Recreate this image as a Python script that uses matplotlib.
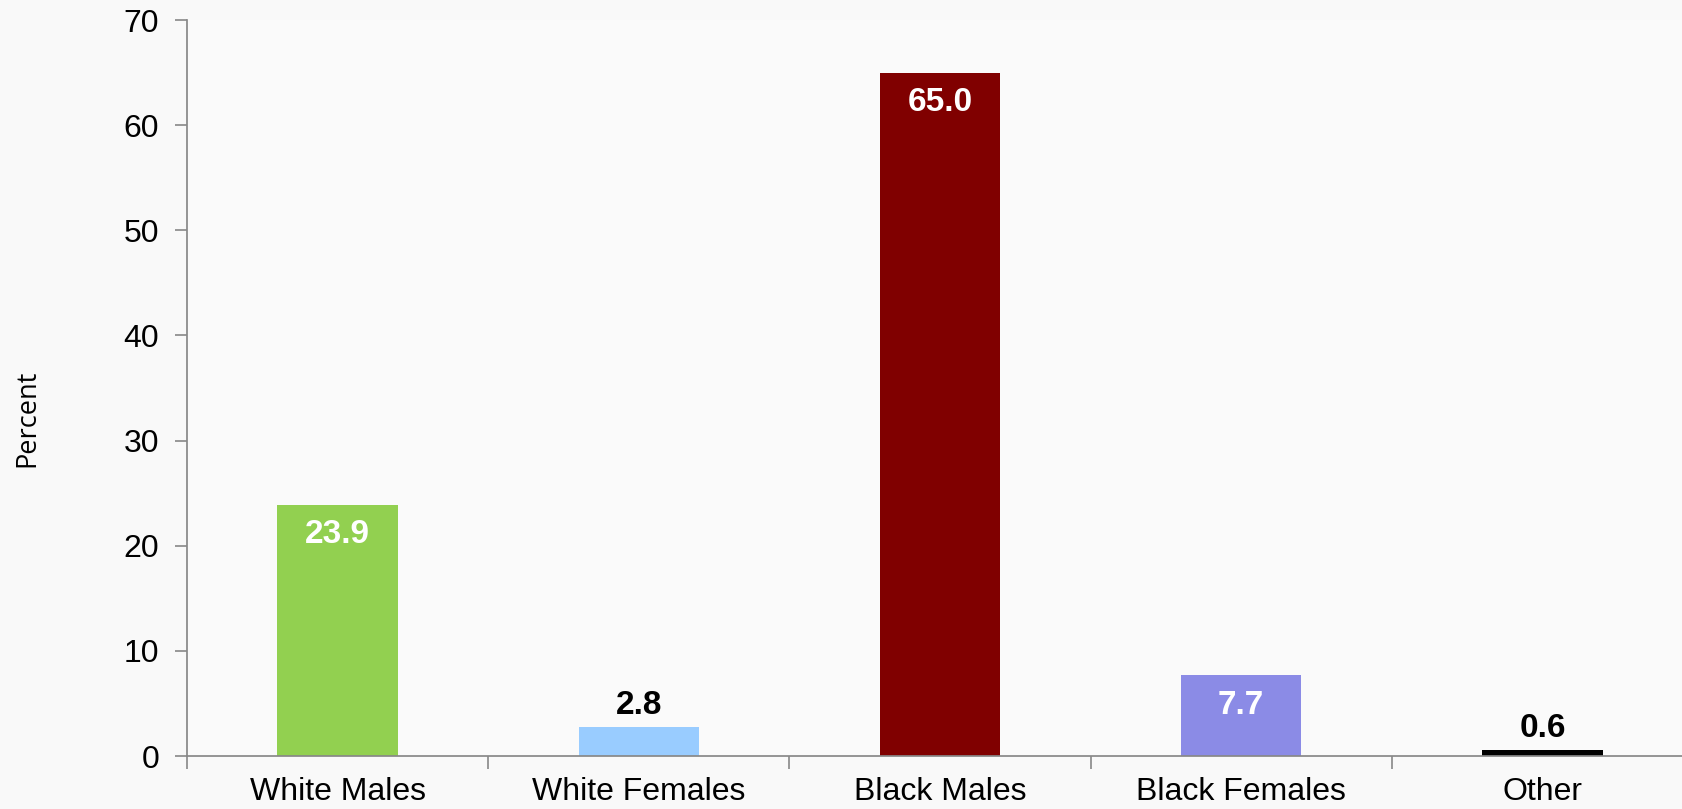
import numpy as np
import matplotlib
matplotlib.use("Agg")
import matplotlib.pyplot as plt

# data
categories = ["White Males", "White Females", "Black Males", "Black Females", "Other"]
values = [23.9, 2.8, 65.0, 7.7, 0.6]
bar_colors = ["#92D050", "#99CCFF", "#800000", "#8B8BE6", "#000000"]
label_inside = [True, False, True, True, False]
y_ticks = [0, 10, 20, 30, 40, 50, 60, 70]

plt.rcParams["font.family"] = ["Liberation Sans", "DejaVu Sans"]

fig = plt.figure(figsize=(16.83, 8.09), dpi=100, facecolor="#f9f9f9")
ax = fig.add_axes([187 / 1683, 53 / 809, 1506 / 1683, 736 / 809])
ax.set_facecolor("#fafafa")

x = np.arange(len(categories))
bars = ax.bar(x, values, width=0.4, color=bar_colors, zorder=2)

ax.set_xlim(-0.5, len(categories) - 0.5)
ax.set_ylim(0, 70)
ax.set_yticks(y_ticks)

# category labels at centres, tick marks at boundaries
ax.set_xticks(x)
ax.set_xticklabels(categories)
ax.set_xticks(np.arange(len(categories) + 1) - 0.5, minor=True)
ax.tick_params(axis="x", which="major", length=0, pad=15, labelsize=23)
ax.tick_params(axis="x", which="minor", length=9, width=1.2, color="#888888")
ax.tick_params(axis="y", length=9, width=1.2, color="#888888", pad=11, labelsize=23)

for side in ["top", "right"]:
    ax.spines[side].set_visible(False)
for side in ["left", "bottom"]:
    ax.spines[side].set_color("#888888")
    ax.spines[side].set_linewidth(1.25)

for bar, v, inside in zip(bars, values, label_inside):
    cx = bar.get_x() + bar.get_width() / 2
    if inside:
        ax.annotate(f"{v:.1f}", (cx, v), xytext=(0, -30), textcoords="offset pixels",
                    ha="center", va="center", fontsize=24, fontweight="bold", color="white")
    else:
        ax.annotate(f"{v:.1f}", (cx, v), xytext=(0, 13), textcoords="offset pixels",
                    ha="center", va="baseline", fontsize=24, fontweight="bold", color="black")

fig.text(27 / 1683, 1 - 418 / 809, "Percent", rotation=90, ha="center", va="center",
         fontsize=19.5, family=["Open Sans", "DejaVu Sans"], color="black")

fig.savefig("out.png", dpi=100, facecolor=fig.get_facecolor())
